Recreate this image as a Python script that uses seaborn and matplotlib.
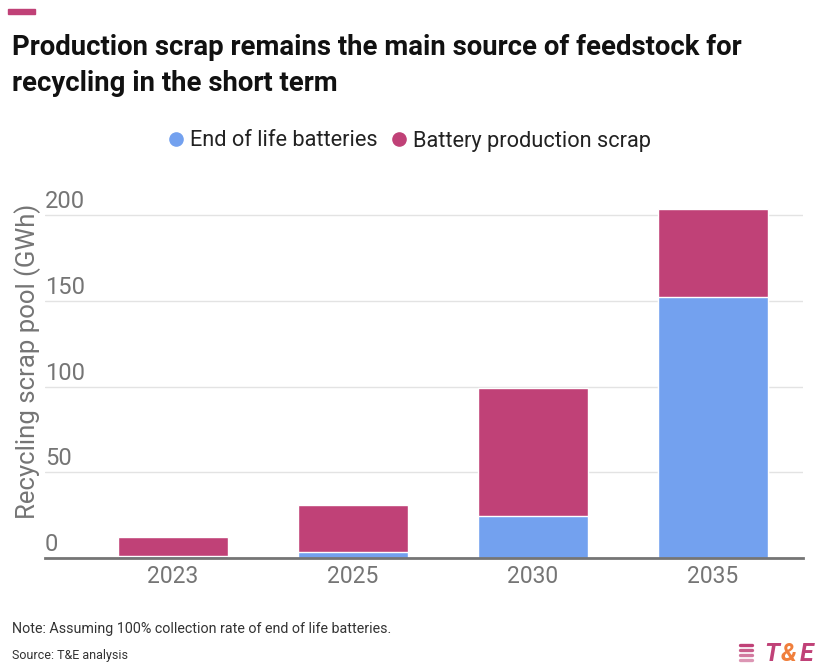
import matplotlib
matplotlib.use("Agg")
import matplotlib.pyplot as plt
from matplotlib.lines import Line2D
from matplotlib.patches import Rectangle
import pandas as pd
import seaborn as sns

years = ["2023", "2025", "2030", "2035"]
end_of_life = [1.0, 3.5, 24.5, 152.3]
production_scrap = [11.2, 27.4, 74.5, 51.2]
y_ticks = [0, 50, 100, 150, 200]

BLUE = "#73a1ef"
MAGENTA = "#c04177"
GREY = "#757575"

sns.set_theme(style="white")
plt.rcParams["font.family"] = ["Roboto", "DejaVu Sans"]

df = pd.DataFrame({
    "year": years,
    "eol": end_of_life,
    "scrap": production_scrap,
})
df["total"] = df["eol"] + df["scrap"]

fig = plt.figure(figsize=(8.19, 6.69), dpi=100)
ax = fig.add_axes([45 / 819, 1 - 558 / 669, 758 / 819, 360 / 669])

# stacked bars: total in magenta, end-of-life drawn over it in blue
sns.barplot(data=df, x="year", y="total", color=MAGENTA, width=0.611,
            saturation=1, ax=ax)
sns.barplot(data=df, x="year", y="eol", color=BLUE, width=0.611,
            saturation=1, ax=ax)

ax.set_xlim(-0.711, 3.5)
ax.set_ylim(0, 210)
for s in ["top", "right", "left"]:
    ax.spines[s].set_visible(False)
ax.spines["bottom"].set_color(GREY)
ax.spines["bottom"].set_linewidth(2)
ax.set_yticks(y_ticks)
ax.set_yticklabels([])
ax.tick_params(axis="y", length=0)
ax.tick_params(axis="x", length=0, labelsize=16.5, labelcolor=GREY, pad=5)
ax.grid(axis="y", color="#e3e3e3", linewidth=1)
ax.set_axisbelow(True)
ax.set_xlabel("")

for v in y_ticks:
    ax.text(0, v + 1.2, str(v), transform=ax.get_yaxis_transform(),
            ha="left", va="bottom", fontsize=17, color=GREY)

ax.set_ylabel("Recycling scrap pool (GWh)", fontsize=18.5, color=GREY)
ax.yaxis.set_label_coords(-4 / 758, 0.547)

fig.patches.append(Rectangle((8 / 819, 1 - 14 / 669), 27 / 819, 5 / 669,
                             transform=fig.transFigure, color=MAGENTA))

fig.text(12 / 819, 1 - 55 / 669,
         "Production scrap remains the main source of feedstock for",
         fontsize=19.8, fontweight="bold", color="#111111", ha="left", va="baseline")
fig.text(12 / 819, 1 - 91 / 669, "recycling in the short term",
         fontsize=19.8, fontweight="bold", color="#111111", ha="left", va="baseline")

handles = [
    Line2D([], [], marker="o", linestyle="", color=BLUE, markersize=9.5),
    Line2D([], [], marker="o", linestyle="", color=MAGENTA, markersize=9.5),
]
fig.legend(handles, ["End of life batteries", "Battery production scrap"],
           loc="center", bbox_to_anchor=(407 / 819, 1 - 141 / 669), ncol=2,
           frameon=False, fontsize=15.7, handletextpad=0.05, columnspacing=0.4,
           handlelength=1.2, labelcolor="#222222")

fig.text(12 / 819, 1 - 629 / 669,
         "Note: Assuming 100% collection rate of end of life batteries.",
         fontsize=10.3, color="#333333", ha="left", va="center")
fig.text(12 / 819, 1 - 656 / 669, "Source: T&E analysis",
         fontsize=9, color="#333333", ha="left", va="center")

# logo
for i in range(4):
    y = 1 - (645 + i * 5) / 669
    fig.add_artist(Line2D([740 / 819, 752 / 819], [y, y], transform=fig.transFigure,
                          color=MAGENTA, linewidth=2.4, alpha=1 - i * 0.15))
fig.text(764 / 819, 1 - 654 / 669, "T", fontsize=18, fontweight="bold",
         fontstyle="italic", color=MAGENTA, ha="left", va="center")
fig.text(781 / 819, 1 - 654 / 669, "&", fontsize=18, fontweight="bold",
         fontstyle="italic", color="#f07f3c", ha="left", va="center")
fig.text(800 / 819, 1 - 654 / 669, "E", fontsize=18, fontweight="bold",
         fontstyle="italic", color=MAGENTA, ha="left", va="center")

fig.savefig("out.png", dpi=100)
